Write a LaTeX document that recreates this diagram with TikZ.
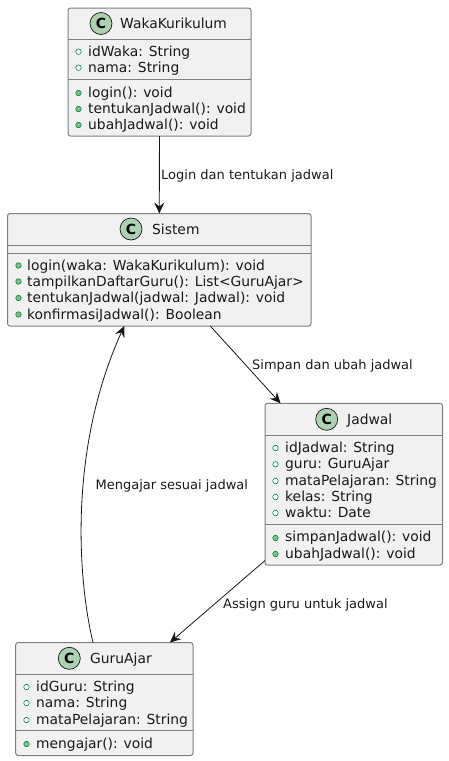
\documentclass[tikz,border=0pt]{standalone}
\usepackage{fontspec}
\setmainfont{DejaVu Sans}
\usetikzlibrary{calc,arrows.meta}
\definecolor{boxfill}{HTML}{F1F1F1}
\definecolor{boxline}{HTML}{7F7F7F}
\definecolor{connline}{HTML}{181818}
\definecolor{iconfill}{HTML}{ADD1B2}
\definecolor{bullet}{HTML}{038048}
\definecolor{bulletfill}{HTML}{84BE84}
\tikzset{
  x=1pt,y=-1pt,
  classbox/.style={draw=boxline,fill=boxfill,line width=1pt,rounded corners=2.5pt,inner sep=0pt,outer sep=0pt},
  sepline/.style={draw=boxline,line width=1pt},
  member/.style={anchor=base west,inner sep=0pt,font=\fontsize{13.85}{16}\selectfont,text=black!90},
  classtitle/.style={anchor=base west,inner sep=0pt,font=\fontsize{13.85}{16}\selectfont,text=black!90},
  icon/.style={circle,draw=connline,fill=iconfill,line width=0.7pt,minimum size=22pt,inner sep=0pt,font=\fontsize{14}{14}\bfseries\selectfont,text=black},
  attrb/.style={circle,draw=bullet,fill=white,line width=0.6pt,minimum size=5.5pt,inner sep=0pt},
  methb/.style={circle,draw=bullet,fill=bulletfill,line width=0.6pt,minimum size=5.5pt,inner sep=0pt},
  conn/.style={draw=connline,line width=0.8pt,-{Stealth[length=11pt,width=10pt,inset=4pt]}},
  edgelabel/.style={anchor=base west,inner sep=0pt,font=\fontsize{13}{15}\selectfont,text=black!90},
}
\begin{document}
\begin{tikzpicture}
\useasboundingbox (0,0) rectangle (448,761);

% WakaKurikulum
\node[classbox,minimum width=183pt,minimum height=128pt] (waka) at (159.5,72) {};
\draw[sepline] (waka.west |- 0,39.5) -- (waka.east |- 0,39.5);
\draw[sepline] (waka.west |- 0,79.5) -- (waka.east |- 0,79.5);
\node[icon] (wakaicon) at (101,23.5) {C};
\node[classtitle] (wakatitle) at (120,28.5) {WakaKurikulum};
\node[attrb] (wb1) at (78.5,51.7) {};
\node[member] (wt1) at (88,56.7) {idWaka: String};
\node[attrb] (wb2) at (78.5,67.7) {};
\node[member] (wt2) at (88,72.7) {nama: String};
\node[methb] (wb3) at (78.5,93) {};
\node[member] (wt3) at (88,97.5) {login(): void};
\node[methb] (wb4) at (78.5,109) {};
\node[member] (wt4) at (88,113.5) {tentukanJadwal(): void};
\node[methb] (wb5) at (78.5,125) {};
\node[member] (wt5) at (88,129.5) {ubahJadwal(): void};

% Sistem
\node[classbox,minimum width=303.5pt,minimum height=112.5pt] (sistem) at (159.25,269.75) {};
\draw[sepline] (sistem.west |- 0,245.5) -- (sistem.east |- 0,245.5);
\draw[sepline] (sistem.west |- 0,253.5) -- (sistem.east |- 0,253.5);
\node[icon] (sistemicon) at (131,229) {C};
\node[classtitle] (sistemtitle) at (152,234) {Sistem};
\node[methb] (sb1) at (18.5,265.5) {};
\node[member] (st1) at (27,270) {login(waka: WakaKurikulum): void};
\node[methb] (sb2) at (18.5,281.5) {};
\node[member] (st2) at (27,286) {tampilkanDaftarGuru(): List<GuruAjar>};
\node[methb] (sb3) at (18.5,298) {};
\node[member] (st3) at (27,302.7) {tentukanJadwal(jadwal: Jadwal): void};
\node[methb] (sb4) at (18.5,314.5) {};
\node[member] (st4) at (27,319) {konfirmasiJadwal(): Boolean};

% Jadwal
\node[classbox,minimum width=177.5pt,minimum height=161.7pt] (jadwal) at (353.75,484.2) {};
\draw[sepline] (jadwal.west |- 0,435.7) -- (jadwal.east |- 0,435.7);
\draw[sepline] (jadwal.west |- 0,524.3) -- (jadwal.east |- 0,524.3);
\node[icon] (jadwalicon) at (326.7,419.3) {C};
\node[classtitle] (jadwaltitle) at (347,424) {Jadwal};
\node[attrb] (jb1) at (275.5,448) {};
\node[member] (jt1) at (285,452.3) {idJadwal: String};
\node[attrb] (jb2) at (275.5,464.3) {};
\node[member] (jt2) at (285,468.7) {guru: GuruAjar};
\node[attrb] (jb3) at (275.5,481) {};
\node[member] (jt3) at (285,485.3) {mataPelajaran: String};
\node[attrb] (jb4) at (275.5,497) {};
\node[member] (jt4) at (285,501.3) {kelas: String};
\node[attrb] (jb5) at (275.5,513) {};
\node[member] (jt5) at (285,517.3) {waktu: Date};
\node[methb] (jb6) at (275.5,538) {};
\node[member] (jt6) at (285,541.3) {simpanJadwal(): void};
\node[methb] (jb7) at (275.5,554) {};
\node[member] (jt7) at (285,558) {ubahJadwal(): void};

% GuruAjar
\node[classbox,minimum width=177.3pt,minimum height=113pt] (guru) at (104.35,699) {};
\draw[sepline] (guru.west |- 0,674.3) -- (guru.east |- 0,674.3);
\draw[sepline] (guru.west |- 0,730.3) -- (guru.east |- 0,730.3);
\node[icon] (guruicon) at (69.3,658.3) {C};
\node[classtitle] (gurutitle) at (90,663.3) {GuruAjar};
\node[attrb] (gb1) at (26.5,687) {};
\node[member] (gt1) at (36,691.3) {idGuru: String};
\node[attrb] (gb2) at (26.5,703) {};
\node[member] (gt2) at (36,707.3) {nama: String};
\node[attrb] (gb3) at (26.5,720) {};
\node[member] (gt3) at (36,724) {mataPelajaran: String};
\node[methb] (gb4) at (26.5,744) {};
\node[member] (gt4) at (36,748.3) {mengajar(): void};

% Connectors
\draw[conn] (waka) -- (sistem);
\draw[conn] (sistem) -- (jadwal);
\draw[conn] (jadwal) -- (guru);
\draw[conn] ($(guru.north)+(-11.35,0)$) .. controls (78,580) and (68,450) .. ($(sistem.south)+(-35,0)$);

% Connector labels
\node[edgelabel] (l1) at (161,179) {Login dan tentukan jadwal};
\node[edgelabel] (l2) at (252,369) {Simpan dan ubah jadwal};
\node[edgelabel] (l3) at (95.5,489) {Mengajar sesuai jadwal};
\node[edgelabel] (l4) at (223,608) {Assign guru untuk jadwal};
\end{tikzpicture}
\end{document}
